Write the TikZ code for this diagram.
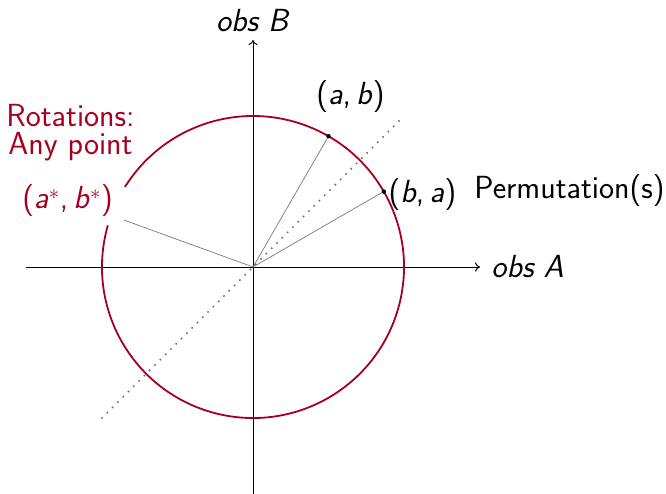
\documentclass[tikz,border=0pt]{standalone}
\usepackage{fontspec}
\usetikzlibrary{arrows.meta}
\definecolor{dred}{RGB}{165,0,33}
\definecolor{lgray}{RGB}{120,120,120}
\definecolor{dgray}{RGB}{110,110,110}
\begin{document}
\begin{tikzpicture}[x=1pt,y=1pt,
  lbl/.style={font=\fontsize{32}{28}\selectfont\sffamily, inner sep=0pt},
  axisline/.style={black, line width=1pt, -{To[length=5pt,width=9pt]}},
  ray/.style={lgray, line width=0.7pt},
  diag/.style={dgray, line width=2.2pt, line cap=round, dash pattern=on 0pt off 7.5pt},
  ring/.style={dred, line width=1.8pt},
  pt/.style={circle, fill=black, inner sep=0pt, minimum size=4.5pt}]
\useasboundingbox (-253,-226) rectangle (413,267);
\coordinate (O) at (0,0);
\coordinate (xs) at (-227,0);
\coordinate (xe) at (227,0);
\coordinate (ys) at (0,-227);
\coordinate (ye) at (0,227);
\coordinate (dl) at (-151,-151);
\coordinate (du) at (151,151);
\draw[diag] (dl) -- (du);
\draw[axisline] (xs) -- (xe);
\draw[axisline] (ys) -- (ye);
\draw[ring] (164:151) arc[start angle=164, end angle=508, radius=151];
\node[pt] (pab) at (60:151) {};
\node[pt] (pba) at (30:151) {};
\coordinate (pst) at (160:137);
\draw[ray] (O) -- (pab);
\draw[ray] (O) -- (pba);
\draw[ray] (O) -- (pst);
\node[lbl] (obsA) at (274.5,0) {\textit{obs A}};
\node[lbl] (obsB) at (0,246.5) {\textit{obs B}};
\node[lbl] (lab) at (97.5,170) {(\textit{a},\,\textit{b})};
\node[lbl] (lba) at (169.5,72.5) {(\textit{b},\,\textit{a})};
\node[lbl] (perm) at (316.5,76) {Permutation(s)};
\node[lbl, dred, align=center, anchor=base] (rot) at (-182.5,113) {Rotations:\\Any point};
\node[lbl, dred] (lst) at (-185.5,66.5) {(\textit{a}$^{*}$,\,\textit{b}$^{*}$)};
\end{tikzpicture}
\end{document}
